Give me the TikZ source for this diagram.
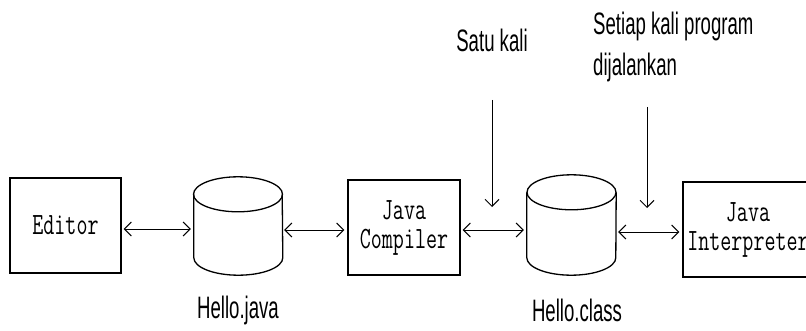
\documentclass[tikz,border=0pt]{standalone}
\usepackage{fontspec}
\usetikzlibrary{arrows.meta}
\newfontfamily\labf[FakeStretch=0.6]{Liberation Sans}
\newcommand{\mtxt}[1]{\scalebox{0.69}[1]{#1}}
\begin{document}
\begin{tikzpicture}[x=1pt,y=1pt,
  boxnode/.style={draw,line width=1.2pt,inner sep=0pt,align=center,font={\ttfamily\fontsize{31}{29}\selectfont}},
  cylnode/.style={inner sep=0pt},
  biarrow/.style={line width=1pt,{Straight Barb[length=7pt,width=14pt]}-{Straight Barb[length=7pt,width=14pt]},shorten <=2pt,shorten >=3pt},
  downarrow/.style={line width=1pt,-{Straight Barb[length=7pt,width=14pt]}},
  lab/.style={font={\labf\fontsize{31}{41}\selectfont},inner sep=0pt},
  cylline/.style={line width=1.3pt}]
\useasboundingbox (0,0) rectangle (806,330);
\clip (0,0) rectangle (806,330);
\fill[white] (0,0) rectangle (806,330);
% boxes
\node[boxnode,minimum width=111,minimum height=95] (ed) at (65.5,104.5) {\mtxt{Editor}};
\node[boxnode,minimum width=112,minimum height=95] (comp) at (404,102.5) {\mtxt{Java}\\\mtxt{Compiler}};
\node[boxnode,minimum width=130,minimum height=95] (int) at (748,100.5) {\mtxt{Java}\\\mtxt{Interpreter}};
% cylinders
\node[cylnode,minimum width=88,minimum height=98] (c1) at (238,104) {};
\node[cylnode,minimum width=89,minimum height=100] (c2) at (571.5,105) {};
\foreach \c in {c1,c2}{
  \draw[cylline] ([yshift=-17.5pt]\c.north) ellipse [x radius=44.5pt, y radius=17.5pt];
  \draw[cylline] ([yshift=-17.5pt]\c.north west) -- ([yshift=17.5pt]\c.south west)
     arc[start angle=180,end angle=360,x radius=44.5pt,y radius=17.5pt]
     -- ([yshift=-17.5pt]\c.north east);
}
% labels
\node[lab] (lj) at (238,20) {Hello.java};
\node[lab] (lc) at (577,20) {Hello.class};
\node[lab] (satu) at (492,290) {Satu kali};
\node[lab,align=left,anchor=west] (setiap) at (593,283) {Setiap kali program\\dijalankan};
% arrows
\draw[biarrow] ([yshift=-3.5pt]ed.east) -- ([yshift=-3pt]c1.west);
\draw[biarrow] ([yshift=-4pt]c1.east) -- ([yshift=-2.5pt]comp.west);
\draw[biarrow] ([yshift=-2.5pt]comp.east) -- ([yshift=-5pt]c2.west);
\draw[biarrow] ([yshift=-7pt]c2.east) -- ([yshift=-2.5pt]int.west);
\coordinate (s1) at (492,230);
\coordinate (e1) at (492,123);
\coordinate (s2) at (647,223);
\coordinate (e2) at (647,122);
\draw[downarrow] (s1) -- (e1);
\draw[downarrow] (s2) -- (e2);
\end{tikzpicture}
\end{document}
